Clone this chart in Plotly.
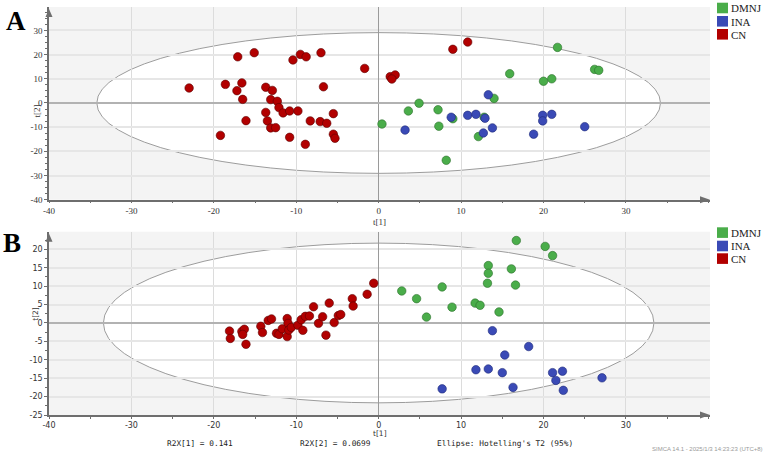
import plotly.graph_objects as go

# ---------------- data ----------------
GROUPS = ["DMNJ", "INA", "CN"]
FILL = {"DMNJ": "#4aad4a", "INA": "#3a4ab6", "CN": "#b20000"}
EDGE = {"DMNJ": "#2b6e2b", "INA": "#1f2a78", "CN": "#5c0000"}

# Panel A (PCA score plot, t[1] vs t[2])
A_DMNJ_X = [0.4, 3.6, 4.9, 7.2, 7.3, 8.2, 9.0, 12.1, 12.8, 14.0, 15.9, 20.0, 21.0, 21.7, 26.2, 26.7]
A_DMNJ_Y = [-8.7, -3.3, -0.1, -2.8, -9.6, -23.7, -6.5, -13.9, -5.9, 1.9, 12.1, 9.0, 10.0, 23.0, 13.9, 13.5]
A_INA_X = [3.2, 8.8, 10.8, 11.8, 12.9, 13.3, 13.8, 12.7, 18.8, 19.9, 19.9, 21.0, 25.0]
A_INA_Y = [-11.2, -5.9, -5.1, -4.7, -6.3, 3.4, -10.3, -12.4, -12.9, -5.1, -7.4, -4.7, -9.8]
A_CN_X = [-23.0, -17.1, -15.1, -18.6, -16.6, -17.2, -16.5, -16.1, -19.2, -13.7,
          -12.9, -13.1, -12.3, -12.1, -11.6, -13.7, -13.5, -13.1, -12.5, -10.8,
          -9.8, -10.8, -8.9, -8.3, -7.1, -6.3, -5.5, -5.5, -5.3, -10.4,
          -9.5, -8.8, -7.0, -6.7, -1.7, 1.4, 2.0, 1.6, 9.0, 10.8]
A_CN_Y = [6.2, 19.1, 20.8, 7.7, 8.3, 5.1, 1.5, -7.3, -13.4, 6.5,
          5.2, 1.4, 0.7, -1.9, -4.1, -3.9, -7.4, -10.3, -10.2, -3.3,
          -3.3, -14.2, -17.1, -7.4, -7.7, -8.4, -4.4, -12.9, -14.6, 17.8,
          20.1, 19.1, 20.8, 6.7, 14.3, 10.9, 11.6, 9.9, 22.2, 25.2]

# Panel B
B_DMNJ_X = [2.8, 4.6, 5.8, 7.7, 8.9, 11.7, 12.3, 13.3, 13.3, 13.2, 14.6, 16.1, 16.6, 16.7, 20.2, 21.1]
B_DMNJ_Y = [8.7, 6.6, 1.6, 9.8, 4.3, 5.4, 4.8, 15.6, 13.5, 10.8, 3.0, 14.7, 10.3, 22.4, 20.8, 18.3]
B_INA_X = [13.8, 18.2, 15.3, 11.8, 13.3, 15.0, 7.7, 16.3, 21.1, 22.3, 21.5, 22.4, 27.1]
B_INA_Y = [-2.1, -6.4, -8.7, -12.7, -12.5, -13.5, -17.9, -17.5, -13.5, -13.1, -15.6, -18.3, -14.9]
B_CN_X = [-18.1, -18.0, -16.6, -16.3, -16.5, -16.1, -14.3, -14.1, -13.4, -13.0,
          -12.4, -12.1, -11.7, -11.1, -11.0, -11.1, -10.9, -10.6, -9.8, -9.4,
          -9.2, -8.9, -8.4, -7.9, -7.3, -6.8, -6.4, -6.0, -5.4, -4.9,
          -4.6, -3.2, -3.1, -1.4, -0.6]
B_CN_Y = [-2.2, -4.2, -2.3, -1.7, -3.1, -5.8, -0.9, -2.6, 0.7, 1.1,
          -2.8, -3.1, -1.6, 1.2, -0.1, -3.7, -1.9, -1.2, -0.6, 0.9,
          -2.0, 1.8, 1.9, 4.4, -0.1, 1.7, -3.3, 5.4, 0.1, 2.0,
          2.3, 6.6, 4.6, 7.8, 10.8]

# Hotelling T2 (95%) ellipse semi-axes
A_ELL = (34.2, 29.1)
B_ELL = (33.4, 21.7)

X_TICKS = [-40, -30, -20, -10, 0, 10, 20, 30]
A_Y_TICKS = [-40, -30, -20, -10, 0, 10, 20, 30]
B_Y_TICKS = [-25, -20, -15, -10, -5, 0, 5, 10, 15, 20]

# ---------------- geometry ----------------
W, H = 767, 454
L, R, T, B = 49, 57, 7, 39
PW, PH = W - L - R, H - T - B


def px_x(px):
    return (px - L) / PW


def px_y(py):
    return (H - B - py) / PH


fig = go.Figure()

panels = [
    ("x", "y", {"DMNJ": (A_DMNJ_X, A_DMNJ_Y), "INA": (A_INA_X, A_INA_Y), "CN": (A_CN_X, A_CN_Y)}),
    ("x2", "y2", {"DMNJ": (B_DMNJ_X, B_DMNJ_Y), "INA": (B_INA_X, B_INA_Y), "CN": (B_CN_X, B_CN_Y)}),
]
for xa, ya, data in panels:
    for g in GROUPS:
        xs, ys = data[g]
        fig.add_trace(go.Scatter(
            x=xs, y=ys, mode="markers", name=g, showlegend=False, xaxis=xa, yaxis=ya,
            marker=dict(size=8.5, color=FILL[g], line=dict(color=EDGE[g], width=0.6)),
            hoverinfo="x+y+name"))

serif = "Liberation Serif"
sans = "DejaVu Sans"
axcol = "#6e6e6e"


def xaxis(anchor, font, fsize):
    return dict(anchor=anchor, domain=[0, 1], range=[-40, 40.2], tickmode="array",
                tickvals=X_TICKS, ticktext=[str(v) for v in X_TICKS],
                ticks="outside", ticklen=2, tickcolor=axcol, tickwidth=1,
                showline=True, linecolor=axcol, linewidth=1.5,
                showgrid=True, gridcolor="#dcdcdc", gridwidth=1,
                zeroline=True, zerolinecolor="#9a9a9a", zerolinewidth=1,
                tickfont=dict(family=font, size=fsize, color="#333"),
                minor=dict(tickmode="linear", tick0=0, dtick=5, ticks="outside", ticklen=2,
                           tickcolor=axcol, showgrid=False),
                fixedrange=True)


def yaxis(anchor, dom, rng, ticks, font, fsize):
    return dict(anchor=anchor, domain=dom, range=rng, tickmode="array",
                tickvals=ticks, ticktext=[str(v) for v in ticks],
                ticks="outside", ticklen=3, tickcolor=axcol, tickwidth=1,
                showline=True, linecolor=axcol, linewidth=1.5,
                showgrid=True, gridcolor="#e6e6e6", gridwidth=2,
                zeroline=True, zerolinecolor="#b2b2b2", zerolinewidth=2,
                tickfont=dict(family=font, size=fsize, color="#333"),
                minor=dict(tickmode="linear", tick0=0, dtick=2.5, ticks="outside", ticklen=2,
                           tickcolor=axcol, showgrid=False),
                fixedrange=True)


top_dom = [px_y(199.7), 1]
bot_dom = [0, px_y(231.7)]

fig.update_layout(
    width=W, height=H, margin=dict(l=L, r=R, t=T, b=B),
    paper_bgcolor="white", plot_bgcolor="#f4f4f4", showlegend=False,
    xaxis=xaxis("y", serif, 9),
    yaxis=yaxis("x", top_dom, [-40, 39.7], A_Y_TICKS, serif, 9),
    xaxis2=xaxis("y2", sans, 8),
    yaxis2=yaxis("x2", bot_dom, [-25, 24.8], B_Y_TICKS, sans, 8),
)

shapes = []
# ellipses (below gridlines)
for xa, ya, (a, b) in [("x", "y", A_ELL), ("x2", "y2", B_ELL)]:
    shapes.append(dict(type="circle", xref=xa, yref=ya, x0=-a, x1=a, y0=-b, y1=b,
                       fillcolor="white", line=dict(color="#9c9c9c", width=1), layer="below"))
# axis arrows
for xa, ya in [("x", "y"), ("x2", "y2")]:
    shapes.append(dict(type="path", xref=xa + " domain", yref=ya + " domain",
                       xsizemode="pixel", ysizemode="pixel", xanchor=0, yanchor=1,
                       path="M -3.5,-10 L 0,-2 L 3.5,-10 Z", fillcolor=axcol,
                       line=dict(width=0), layer="above"))
    shapes.append(dict(type="path", xref=xa + " domain", yref=ya + " domain",
                       xsizemode="pixel", ysizemode="pixel", xanchor=1, yanchor=0,
                       path="M -10,-3.5 L 0,0 L -10,3.5 Z", fillcolor=axcol,
                       line=dict(width=0), layer="above"))

# custom legends (square swatches)
annotations = []
for tops in ([2.7, 16.0, 29.0], [227.3, 240.7, 253.3]):
    for g, yt in zip(GROUPS, tops):
        shapes.append(dict(type="rect", xref="paper", yref="paper",
                           x0=px_x(717), x1=px_x(728), y0=px_y(yt + 10.6), y1=px_y(yt),
                           fillcolor=FILL[g], line=dict(width=0)))
        annotations.append(dict(xref="paper", yref="paper", x=px_x(729), y=px_y(yt + 5.6),
                                xanchor="left", yanchor="middle", showarrow=False, text=g,
                                font=dict(family=serif, size=11, color="#222")))

# panel letters
annotations.append(dict(xref="paper", yref="paper", x=px_x(16), y=px_y(21), text="<b>A</b>",
                        showarrow=False, xanchor="center", yanchor="middle",
                        font=dict(family=serif, size=27, color="black")))
annotations.append(dict(xref="paper", yref="paper", x=px_x(12), y=px_y(243), text="<b>B</b>",
                        showarrow=False, xanchor="center", yanchor="middle",
                        font=dict(family=serif, size=27, color="black")))
# axis titles
annotations.append(dict(xref="paper", yref="paper", x=px_x(379.3), y=px_y(221.5), text="t[1]",
                        showarrow=False, font=dict(family=serif, size=9, color="#333")))
annotations.append(dict(xref="paper", yref="paper", x=px_x(29), y=px_y(103), text="t[2]",
                        showarrow=False, textangle=-90, font=dict(family=serif, size=9, color="#333")))
annotations.append(dict(xref="paper", yref="paper", x=px_x(380), y=px_y(439.5), text="t[1]",
                        showarrow=False, font=dict(family=sans, size=7.5, color="#333")))
annotations.append(dict(xref="paper", yref="paper", x=px_x(29), y=px_y(323.3), text="t[2]",
                        showarrow=False, textangle=-90, font=dict(family=sans, size=7.5, color="#333")))
# footer texts
mono = "DejaVu Sans Mono"
for txt, cx in [("R2X[1] = 0.141", 200), ("R2X[2] = 0.0699", 335), ("Ellipse: Hotelling's T2 (95%)", 505)]:
    annotations.append(dict(xref="paper", yref="paper", x=px_x(cx), y=px_y(443), text=txt,
                            showarrow=False, xanchor="center", yanchor="middle",
                            font=dict(family=mono, size=7.8, color="#222")))
annotations.append(dict(xref="paper", yref="paper", x=px_x(765), y=px_y(449.5),
                        text="SIMCA 14.1 - 2025/1/3 14:23:23 (UTC+8)", showarrow=False,
                        xanchor="right", yanchor="middle",
                        font=dict(family="Liberation Sans", size=6, color="#9a9a9a")))

fig.update_layout(shapes=shapes, annotations=annotations)
fig.write_html("out.html")
